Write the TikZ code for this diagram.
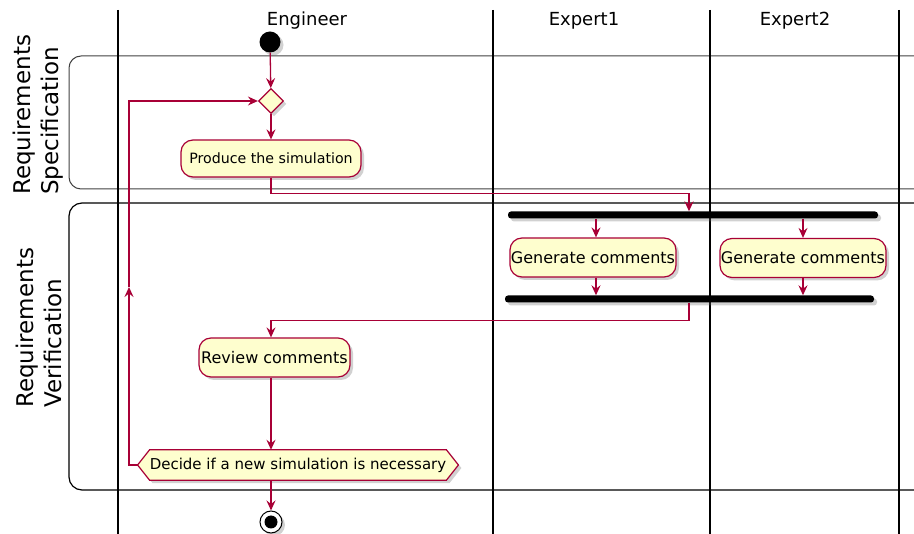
\documentclass[tikz,border=0pt]{standalone}
\usepackage{fontspec}
\setmainfont{DejaVu Sans}
\usetikzlibrary{shapes.geometric,shadows,arrows.meta,backgrounds}
\definecolor{crim}{HTML}{A80036}
\definecolor{yel}{HTML}{FEFECE}
\tikzset{
  arr/.style={draw=crim, line width=1.3pt, -{Stealth[length=10pt,width=9pt,inset=3.5pt]}},
  shad/.style={drop shadow={shadow xshift=3pt, shadow yshift=-3pt, opacity=0.3, fill=black!60}},
  act/.style={draw=crim, fill=yel, line width=1.2pt, rounded corners=12pt, inner sep=0pt, shad, font=\fontsize{16}{19}\selectfont},
  fbar/.style={fill=black, rounded corners=3pt, minimum height=7pt, inner sep=0pt, shad},
  lane/.style={line width=1.6pt, black},
  ltitle/.style={font=\fontsize{18}{21}\selectfont, inner sep=0pt},
  plabel/.style={font=\fontsize{23}{28}\selectfont, rotate=90, anchor=west, align=left, inner sep=0pt},
}
\begin{document}
\begin{tikzpicture}[x=1pt,y=-1pt]
\useasboundingbox (0,0) rectangle (914,534);
\clip (0,0) rectangle (914,534);
% partitions
\draw[black!75, line width=1pt, rounded corners=12pt] (930,56) -- (69,56) -- (69,189) -- (930,189);
\draw[black, line width=1.2pt, rounded corners=13pt] (930,203) -- (69,203) -- (69,490) -- (930,490);
\node[plabel] (p1) at (38.5,195) {Requirements\\Specification};
\node[plabel] (p2) at (38.5,408) {Requirements\\Verification};
% lanes
\draw[lane] (118,10) -- (118,534);
\draw[lane] (493,10) -- (493,534);
\draw[lane] (710,10) -- (710,534);
\draw[lane] (899,10) -- (899,534);
\node[ltitle] (t1) at (307,21) {Engineer};
\node[ltitle] (t2) at (584,21) {Expert1};
\node[ltitle] (t3) at (795,21) {Expert2};
\coordinate (axis) at (271,0);
% nodes
\node[circle, fill=black, minimum size=21pt, inner sep=0pt, shad] (start) at (270,42) {};
\node[diamond, draw=crim, fill=yel, line width=1.2pt, minimum width=25pt, minimum height=25pt, inner sep=0pt, shad] (merge) at (271,101) {};
\node[act, font=\fontsize{14.2}{17}\selectfont, minimum width=180pt, minimum height=37pt] (produce) at (271,158.5) {Produce the simulation};
\node[fbar, minimum width=370pt] (fork) at (693,215) {};
\node[act, minimum width=166pt, minimum height=39pt] (gen1) at (593,257.5) {Generate comments};
\node[act, minimum width=166pt, minimum height=39pt] (gen2) at (803,258) {Generate comments};
\node[fbar, minimum width=369pt] (join) at (689.5,299) {};
\node[act, minimum width=151pt, minimum height=39pt] (review) at (274.5,357.5) {Review comments};
\node[inner sep=0pt, minimum width=292pt, minimum height=30pt, font=\fontsize{15}{18}\selectfont] (decide) at (298,465) {Decide if a new simulation is necessary};
\begin{pgfonlayer}{background}
\draw[draw=crim, fill=yel, line width=1.2pt, shad] (decide.north west) -- (decide.north east) -- ([xshift=12pt]decide.east) -- (decide.south east) -- (decide.south west) -- ([xshift=-12pt]decide.west) -- cycle;
\end{pgfonlayer}
\node[circle, draw=black, fill=white, line width=1pt, minimum size=22pt, inner sep=0pt, shad,
  path picture={\fill[black] (path picture bounding box.center) circle (6.5pt);}] (end) at (271,522) {};
\coordinate (loopmid) at (129,287);
\coordinate (split) at (689,0);
% connectors
\draw[arr] (start) -- (merge);
\draw[arr] (merge) -- (produce);
\draw[arr] (produce.south) -- ++(0,16) -| (fork.north -| split);
\draw[arr] (fork.south -| 596,0) -- (gen1.north -| 596,0);
\draw[arr] (fork.south -| gen2.north) -- (gen2.north);
\draw[arr] (gen1.south -| 596,0) -- (join.north -| 596,0);
\draw[arr] (gen2.south) -- (join.north -| gen2.south);
\draw[arr] (join.south -| split) -- ++(0,18) -| (review.north -| axis);
\draw[arr] (review.south -| axis) -- (decide.north -| axis);
\draw[arr] (decide.south -| axis) -- (end);
\draw[arr] ([xshift=-12pt]decide.west) -| (loopmid);
\draw[arr] (loopmid) |- (merge.west);
\end{tikzpicture}
\end{document}
